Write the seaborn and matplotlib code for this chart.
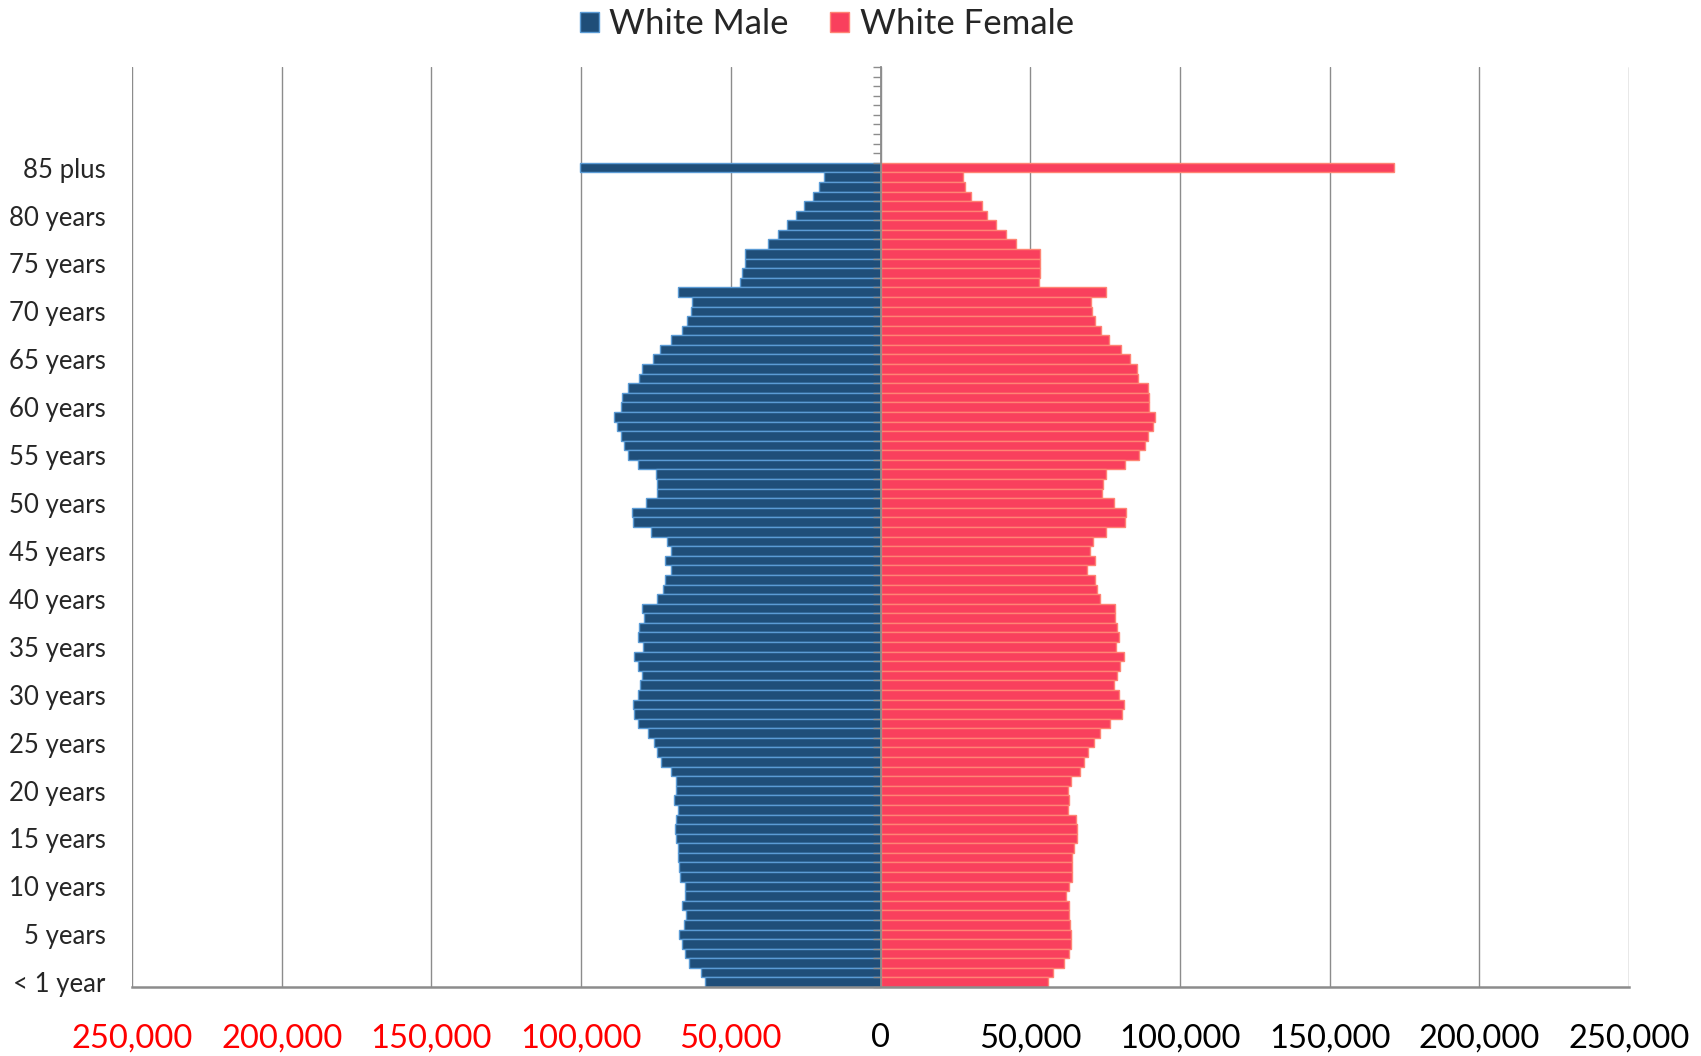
import seaborn as sns
import matplotlib.pyplot as plt
import numpy as np
import pandas as pd

# age groups, bottom (< 1 year) to top (85 plus)
age_labels = ["< 1 year"] + [f"{a} years" for a in range(1, 85)] + ["85 plus"]

male = [58700, 60000, 64000, 65400, 66400, 67300, 65800, 65100, 66400, 65400,
        65400, 66900, 67300, 67700, 67700, 68200, 68800, 68200, 67800, 69000,
        68200, 68300, 70100, 73200, 74700, 75800, 77500, 81000, 82200, 82800,
        81100, 80300, 79700, 81100, 82400, 79300, 81000, 80500, 79100, 79700,
        74800, 72800, 71900, 70100, 72000, 70000, 71400, 76700, 82800, 83100,
        78200, 74800, 74700, 75100, 81000, 84500, 85800, 86700, 88100, 88900,
        86600, 86300, 84500, 80500, 79800, 76100, 73600, 70000, 66400, 64500,
        63400, 63100, 67700, 47100, 46300, 45400, 45100, 37600, 34300, 31200,
        28300, 25700, 22600, 20600, 19000, 100300]

female = [56100, 57500, 61200, 62800, 63600, 63500, 63400, 62900, 63000, 62000,
          62800, 64000, 64100, 64000, 64700, 65600, 65600, 65300, 62500, 62800,
          62700, 63500, 66500, 67900, 69200, 71300, 73300, 76800, 80600, 81400,
          79600, 78100, 78900, 80000, 81200, 78700, 79600, 79100, 78300, 78400,
          73300, 72200, 71800, 68800, 71700, 69800, 71000, 75400, 81700, 82100,
          78000, 73900, 74300, 75400, 81700, 86300, 88300, 89300, 91100, 91700,
          89700, 89700, 89300, 86000, 85800, 83300, 80300, 76400, 73700, 71700,
          70700, 70200, 75300, 52900, 53400, 53300, 53100, 45300, 41900, 38700,
          35700, 33900, 30200, 28300, 27400, 171400]

shown_labels = ["< 1 year", "5 years", "10 years", "15 years", "20 years", "25 years",
                "30 years", "35 years", "40 years", "45 years", "50 years", "55 years",
                "60 years", "65 years", "70 years", "75 years", "80 years", "85 plus"]
x_ticks = [-250000, -200000, -150000, -100000, -50000, 0,
           50000, 100000, 150000, 200000, 250000]

df = pd.DataFrame({"age": age_labels,
                   "male": [-v for v in male],
                   "female": female})
order = age_labels[::-1]  # seaborn puts the first level on top

sns.set_style("white")
plt.rcParams['font.family'] = ['Lato', 'DejaVu Sans']

GRAY = "#8c8c8c"

fig = plt.figure(figsize=(17.01, 10.56), dpi=100)
ax = fig.add_axes([0.0776, 0.0653, 0.8801, 0.8713])

sns.barplot(data=df, x="male", y="age", order=order, orient="h", color="#1f4e79",
            edgecolor="#5b9bd5", linewidth=1.0, width=1.0, saturation=1,
            errorbar=None, label="White Male", ax=ax)
sns.barplot(data=df, x="female", y="age", order=order, orient="h", color="#f9405d",
            edgecolor="#ff8474", linewidth=1.0, width=1.0, saturation=1,
            errorbar=None, label="White Female", ax=ax)
handles, labels = ax.get_legend_handles_labels()
if ax.get_legend() is not None:
    ax.get_legend().remove()

# 10 empty slots above "85 plus"
n = len(order)
ax.set_ylim(n - 0.5, -10.5)
ax.set_xlim(-250000, 250000)

ax.set_xticks(x_ticks)
ax.set_xticklabels([f"{abs(v):,}" for v in x_ticks])
for lbl, v in zip(ax.get_xticklabels(), x_ticks):
    lbl.set_color("red" if v < 0 else "black")
ax.tick_params(axis="x", length=9, width=1, color=GRAY, labelsize=23.5, pad=17)

ax.set_yticks([order.index(s) for s in shown_labels])
ax.set_yticklabels(shown_labels)
ax.tick_params(axis="y", length=0, labelsize=18.5, pad=19)

ax.set_xlabel("")
ax.set_ylabel("")
ax.grid(axis="x", color=GRAY, linewidth=1)
ax.grid(axis="y", visible=False)
ax.set_axisbelow(True)
for s in ["top", "right", "left"]:
    ax.spines[s].set_visible(False)
ax.spines["bottom"].set_color(GRAY)
ax.spines["bottom"].set_linewidth(1.8)

# vertical category axis sitting at zero with ticks between categories
ax2 = ax.twinx()
ax2.set_ylim(ax.get_ylim())
ax2.spines["right"].set_position(("data", 0))
for s in ["top", "left", "bottom"]:
    ax2.spines[s].set_visible(False)
ax2.spines["right"].set_color(GRAY)
ax2.spines["right"].set_linewidth(1.3)
ax2.set_yticks(np.arange(-10.5, n, 1))
ax2.tick_params(axis="y", direction="in", length=6, width=1, color=GRAY, labelright=False)
ax2.grid(False)

fig.legend(handles, labels, loc="center", bbox_to_anchor=(0.486, 0.977), ncol=2,
           frameon=False, fontsize=25, handlelength=0.55, handleheight=0.55,
           handletextpad=0.3, columnspacing=1.2)

fig.savefig("out.png", dpi=100)
